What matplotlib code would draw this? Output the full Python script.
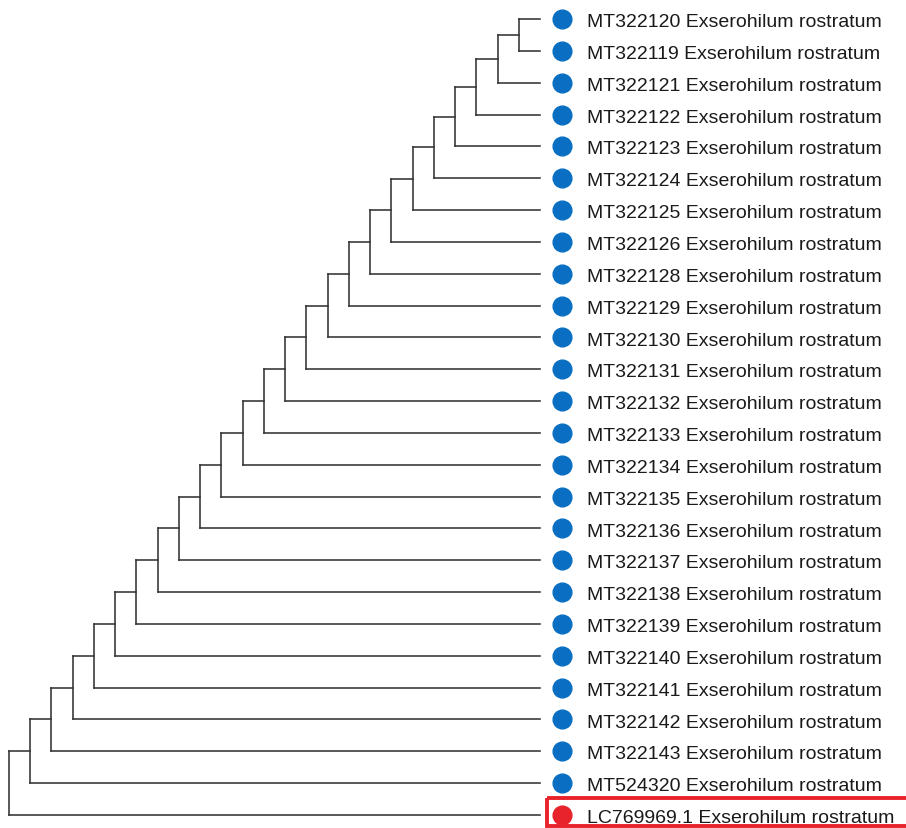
import matplotlib
matplotlib.use("Agg")
import matplotlib.pyplot as plt
from matplotlib.patches import Rectangle

plt.rcParams['font.family'] = ['Liberation Sans', 'DejaVu Sans']

# leaves, top to bottom (ladder-shaped cladogram)
accessions = ['MT322120', 'MT322119', 'MT322121', 'MT322122', 'MT322123',
              'MT322124', 'MT322125', 'MT322126', 'MT322128', 'MT322129',
              'MT322130', 'MT322131', 'MT322132', 'MT322133', 'MT322134',
              'MT322135', 'MT322136', 'MT322137', 'MT322138', 'MT322139',
              'MT322140', 'MT322141', 'MT322142', 'MT322143', 'MT524320',
              'LC769969.1']
species = 'Exserohilum rostratum'
highlight = 'LC769969.1'

blue = '#0a6fc2'
red = '#e8232b'
line_col = '#333333'

# build the ladder topology: ((((a,b),c),d),...)
tree = (accessions[0], accessions[1])
for acc in accessions[2:]:
    tree = (tree, acc)

def depth_of(node):
    if isinstance(node, str):
        return 0
    return 1 + max(depth_of(c) for c in node)

row = {acc: i for i, acc in enumerate(accessions)}
tip_x = depth_of(tree)

segs = []

def layout(node, x):
    # returns y of node; leaves are pushed to tip_x
    if isinstance(node, str):
        return row[node]
    ys = []
    for child in node:
        cx = tip_x if isinstance(child, str) else x + 1
        cy = layout(child, x + 1)
        segs.append(((x, cx), (cy, cy)))
        ys.append(cy)
    segs.append(((x, x), (min(ys), max(ys))))
    return (min(ys) + max(ys)) / 2.0

layout(tree, 0)

fig = plt.figure(figsize=(9.06, 8.29), dpi=100)
ax = fig.add_axes([0, 0, 1, 1])

for xs, ys in segs:
    ax.plot(xs, ys, color=line_col, lw=1.15, solid_capstyle='projecting')

for acc in accessions:
    y = row[acc]
    c = red if acc == highlight else blue
    ax.plot(tip_x + 1.04, y, marker='o', ms=13.5, color=c, mec=c)
    ax.text(tip_x + 2.2, y + 0.02, acc + ' ' + species, fontsize=14,
            color='#1a1a1a', va='center_baseline', ha='left')

# red box around highlighted tip
hy = row[highlight]
ax.add_patch(Rectangle((tip_x + 0.33, hy - 0.52), 20, 0.87, fill=False,
                       ec=red, lw=2.8, clip_on=True))

sx = 531 / 25.0
sy = 796 / 25.0
ax.set_xlim(-9 / sx, (906 - 9) / sx)
ax.set_ylim((829 - 20) / sy, -20 / sy)
ax.axis('off')

fig.savefig('out.png', dpi=100, facecolor='white')
